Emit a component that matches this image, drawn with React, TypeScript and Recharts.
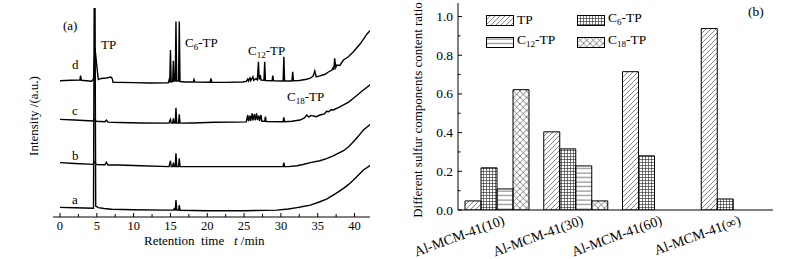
import React from 'react';
import { LineChart, Line, XAxis, YAxis, BarChart, Bar } from 'recharts';

const FONT = "'Liberation Serif', 'Times New Roman', serif";

// (a) chromatograms: [retention time / min, intensity (a.u., stacked offset)]
const traceA: [number, number][] = [
  [0, 4.6], [2, 4.4], [4.55, 4.2], [4.65, 110], [4.75, 110], [4.85, 5.2], [5.2, 4.5], [6, 4.1],
  [7, 3.7], [10, 3.5], [14.5, 3.3], [15.4, 3.3], [15.5, 3.9], [15.6, 3.3], [15.65, 3.3],
  [15.75, 8.1], [15.85, 3.3], [16.1, 3.3], [16.2, 5.7], [16.3, 3.2], [20, 3.0], [25, 3.0],
  [29.4, 3.3], [31, 3.8], [32.2, 4.5], [33, 5.0], [34, 5.7], [35.3, 7.3], [36.2, 8.6],
  [37.1, 10.5], [37.8, 12.0], [38.5, 13.7], [39.2, 15.6], [39.85, 17.7], [40.5, 20.0],
  [41.2, 22.5], [42.2, 24.8],
];
const traceB: [number, number][] = [
  [0, 26.0], [2, 25.6], [4.5, 25.2], [4.75, 26.5], [4.9, 25.1], [6.1, 25.0], [6.3, 26.2],
  [6.5, 24.9], [8, 24.9], [11, 24.5], [14.8, 24.1], [15.0, 26.9], [15.1, 24.1], [15.3, 24.1],
  [15.4, 26.0], [15.5, 24.1], [15.65, 24.1], [15.75, 30.5], [15.85, 24.1], [16.1, 24.1],
  [16.2, 28.1], [16.3, 24.1], [20, 24.1], [25, 24.1], [30.3, 24.1], [30.4, 26.0], [30.5, 24.1],
  [31, 24.1], [32.2, 24.5], [33, 25.1], [34, 26.0], [35.3, 26.9], [36.2, 27.9], [37.1, 29.2],
  [38.5, 31.7], [39.2, 33.6], [39.85, 36.0], [40.5, 38.6], [41.2, 41.6], [42.2, 44.5],
];
const traceC: [number, number][] = [
  [0, 46.7], [2, 46.4], [4.5, 45.9], [4.75, 47.0], [4.9, 45.8], [6.1, 45.6], [6.3, 46.4],
  [6.5, 45.4], [8, 45.2], [11, 45.0], [14.8, 44.9], [14.9, 46.0], [15.0, 46.7], [15.1, 45.0],
  [15.3, 45.0], [15.4, 47.2], [15.5, 45.0], [15.65, 45.0], [15.75, 52.3], [15.85, 45.0],
  [16.1, 45.0], [16.2, 49.1], [16.3, 44.9], [18, 45.0], [21, 45.3], [24, 45.4], [25.3, 45.5],
  [25.5, 48.8], [25.6, 45.8], [25.8, 48.5], [25.9, 46.0], [26.1, 49.6], [26.2, 46.2],
  [26.4, 49.2], [26.5, 46.3], [26.7, 49.6], [26.8, 46.4], [27.0, 48.5], [27.1, 46.0],
  [27.3, 48.8], [27.4, 45.8], [27.8, 45.8], [27.9, 48.0], [28.0, 45.7], [30.3, 45.6],
  [30.4, 47.7], [30.5, 45.6], [31.5, 45.8], [32.6, 46.4], [33.2, 47.4], [33.5, 48.8],
  [33.8, 47.8], [34.1, 48.6], [34.4, 48.3], [34.8, 48.0], [35.3, 48.8], [35.9, 49.3],
  [36.2, 50.6], [36.5, 50.4], [36.8, 51.3], [37.1, 51.2], [37.8, 52.3], [38.5, 53.6],
  [39.2, 55.0], [39.85, 56.8], [40.5, 58.7], [41.2, 60.8], [42.2, 63.5],
];
const traceD: [number, number][] = [
  [0, 65.2], [1.5, 65.4], [2.7, 65.5], [2.8, 67.6], [2.9, 65.4], [4.3, 65.0], [4.55, 66.0],
  [4.75, 80.9], [4.95, 74.0], [5.2, 65.8], [5.6, 66.3], [6.3, 66.5], [6.9, 67.0], [7.1, 66.2],
  [7.2, 64.5], [10, 64.3], [12, 64.1], [14.7, 64.2], [14.8, 65.5], [14.9, 64.4], [15.0, 79.9],
  [15.1, 64.6], [15.3, 64.8], [15.4, 74.8], [15.5, 65.0], [15.65, 65.0], [15.75, 93.5],
  [15.85, 65.0], [16.1, 65.0], [16.2, 93.5], [16.3, 64.8], [17.0, 64.6], [18.1, 64.6],
  [18.2, 65.8], [18.3, 64.6], [20.4, 64.5], [20.5, 66.3], [20.6, 64.5], [22.5, 64.4],
  [24.8, 64.6], [25.3, 64.9], [25.5, 66.0], [25.6, 65.1], [25.8, 66.5], [25.9, 65.2],
  [26.2, 67.1], [26.3, 65.4], [26.6, 66.2], [26.8, 65.6], [26.95, 74.3], [27.05, 65.8],
  [27.2, 67.9], [27.3, 65.5], [27.7, 65.4], [27.8, 74.3], [27.9, 65.3], [28.8, 65.2],
  [28.9, 67.6], [29.0, 65.2], [30.3, 65.1], [30.4, 76.7], [30.5, 65.1], [31.5, 65.1],
  [31.6, 69.5], [31.7, 65.2], [32.5, 65.3], [33.5, 65.9], [34.0, 66.4], [34.4, 67.5],
  [34.6, 69.9], [34.8, 67.0], [35.3, 67.5], [36.0, 68.3], [36.5, 69.5], [36.9, 70.2],
  [37.1, 71.5], [37.2, 70.5], [37.3, 75.9], [37.45, 71.5], [37.6, 72.7], [38.0, 72.5],
  [38.5, 75.1], [39.2, 76.8], [39.85, 79.1], [40.8, 83.0], [41.7, 87.6], [42.2, 89.5],
];
const timeTicks = [0, 2.5, 5, 7.5, 10, 12.5, 15, 17.5, 20, 22.5, 25, 27.5, 30, 32.5, 35, 37.5, 40];

// (b) sulfur component ratios
const catalysts = ['Al-MCM-41(10)', 'Al-MCM-41(30)', 'Al-MCM-41(60)', 'Al-MCM-41(\u221e)'];
const tpRatio = [0.047, 0.404, 0.715, 0.938];
const c6Ratio = [0.218, 0.316, 0.28, 0.057];
const c12Ratio = [0.109, 0.228, null, null];
const c18Ratio = [0.622, 0.047, null, null];
const ratioTicks = [0, 0.1, 0.2, 0.3, 0.4, 0.5, 0.6, 0.7, 0.8, 0.9, 1.0];

const series = [
  { key: 'tp', name: 'TP', sub: '', fill: 'url(#hTP)' },
  { key: 'c6', name: 'C', sub: '6', fill: 'url(#hC6)' },
  { key: 'c12', name: 'C', sub: '12', fill: 'url(#hC12)' },
  { key: 'c18', name: 'C', sub: '18', fill: 'url(#hC18)' },
];

const toPts = (arr: [number, number][]) => arr.map(([t, v]) => ({ t, v }));

const barData = catalysts.map((name, i) => ({
  name,
  tp: tpRatio[i],
  c6: c6Ratio[i],
  c12: c12Ratio[i],
  c18: c18Ratio[i],
}));

const SeriesName = ({ name, sub }: { name: string; sub: string }) =>
  sub ? (
    <span>
      {name}
      <sub style={{ fontSize: 9, verticalAlign: -3 }}>{sub}</sub>-TP
    </span>
  ) : (
    <span>{name}</span>
  );

const Note = ({ x, y, children, size = 13 }: any) => (
  <div
    style={{
      position: 'absolute', left: x, top: y, transform: 'translateY(-50%)',
      fontFamily: FONT, fontSize: size, whiteSpace: 'pre', lineHeight: 1,
    }}
  >
    {children}
  </div>
);

const VLabel = ({ x, y, children }: any) => (
  <div
    style={{
      position: 'absolute', left: x, top: y, transform: 'translate(-50%,-50%) rotate(-90deg)',
      fontFamily: FONT, fontSize: 13, whiteSpace: 'nowrap', lineHeight: 1,
    }}
  >
    {children}
  </div>
);

const TimeTick = (props: any) => {
  const { x, y, payload } = props;
  const v = payload.value;
  const major = v % 5 === 0;
  return (
    <g>
      <line x1={x} y1={y} x2={x} y2={y - (major ? 4 : 3)} stroke="#000" />
      {major && (
        <text x={x} y={y + 13} textAnchor="middle" fontSize={12.5} fontFamily={FONT} fill="#000">
          {v}
        </text>
      )}
    </g>
  );
};

const RatioTick = (props: any) => {
  const { x, y, payload } = props;
  const v = payload.value;
  const major = Math.round(v * 10) % 2 === 0;
  return (
    <g>
      <line x1={x} y1={y} x2={x + (major ? 4 : 2.5)} y2={y} stroke="#000" />
      {major && (
        <text x={x - 5} y={y + 4.5} textAnchor="end" fontSize={13.5} fontFamily={FONT} fill="#000">
          {v.toFixed(1)}
        </text>
      )}
    </g>
  );
};

const CatTick = (props: any) => {
  const { x, y, payload } = props;
  const tx = x + 8;
  const ty = y + 14;
  return (
    <text
      x={tx} y={ty} textAnchor="end" fontSize={14} fontFamily={FONT} fill="#000"
      transform={`rotate(-20, ${tx}, ${ty})`}
    >
      {payload.value}
    </text>
  );
};

function Chromatograms() {
  const traces = [traceA, traceB, traceC, traceD];
  return (
    <div style={{ position: 'absolute', left: 0, top: 0, width: 390, height: 259 }}>
      <LineChart width={390} height={259} margin={{ top: 8, right: 20, bottom: 12, left: 53 }}>
        <XAxis
          type="number" dataKey="t" domain={[-0.95, 42.1]} allowDataOverflow ticks={timeTicks}
          interval={0} tick={<TimeTick />} tickLine={false} tickSize={0} tickMargin={0}
          height={30} axisLine={{ stroke: '#000' }}
        />
        <XAxis
          xAxisId="top" orientation="top" type="number" domain={[-0.95, 42.1]} height={0}
          tick={false} tickLine={false} axisLine={{ stroke: '#000' }}
        />
        <YAxis
          type="number" domain={[0, 100]} allowDataOverflow width={0} tick={false}
          tickLine={false} axisLine={{ stroke: '#000' }}
        />
        <YAxis
          yAxisId="right" orientation="right" width={0} tick={false} tickLine={false}
          axisLine={{ stroke: '#000' }}
        />
        {traces.map((tr, i) => (
          <Line
            key={i} data={toPts(tr)} dataKey="v" type="linear" stroke="#000" strokeWidth={1.4}
            dot={false} isAnimationActive={false}
          />
        ))}
      </LineChart>
      <Note x={63} y={25}>(a)</Note>
      <Note x={101} y={44}>TP</Note>
      <Note x={185} y={44}><SeriesName name="C" sub="6" /></Note>
      <Note x={248} y={52}><SeriesName name="C" sub="12" /></Note>
      <Note x={287} y={98}><SeriesName name="C" sub="18" /></Note>
      <Note x={72} y={64}>d</Note>
      <Note x={72} y={110}>c</Note>
      <Note x={72} y={155}>b</Note>
      <Note x={72} y={199}>a</Note>
      <VLabel x={33} y={116}>Intensity /(a.u.)</VLabel>
      <Note x={144} y={240}>
        {'Retention  time   '}<i>t</i>{' /min'}
      </Note>
    </div>
  );
}

function SulfurRatios() {
  return (
    <div style={{ position: 'absolute', left: 390, top: 0, width: 395, height: 259 }}>
      <BarChart
        width={395} height={259} data={barData} barGap={0} barCategoryGap={7}
        margin={{ top: 3, right: 12, bottom: 9, left: 0 }}
      >
        <defs>
          <pattern id="hTP" width="5" height="5" patternUnits="userSpaceOnUse">
            <path d="M-1,1 l2,-2 M0,5 l5,-5 M4,6 l2,-2" stroke="#333" strokeWidth="0.6" />
          </pattern>
          <pattern id="hC6" width="3" height="3" patternUnits="userSpaceOnUse">
            <path d="M0,0.5 H3 M0.5,0 V3" stroke="#222" strokeWidth="0.6" />
          </pattern>
          <pattern id="hC12" width="4" height="4.5" patternUnits="userSpaceOnUse">
            <path d="M0,2 H4" stroke="#333" strokeWidth="0.7" />
          </pattern>
          <pattern id="hC18" width="6.5" height="6.5" patternUnits="userSpaceOnUse">
            <path d="M0,0 L6.5,6.5 M6.5,0 L0,6.5" stroke="#333" strokeWidth="0.6" />
          </pattern>
        </defs>
        <XAxis
          dataKey="name" tick={<CatTick />} tickLine={false} tickSize={0} tickMargin={0}
          interval={0} height={40} axisLine={{ stroke: '#000' }}
        />
        <XAxis
          xAxisId="top" dataKey="name" orientation="top" height={0} tick={false}
          tickLine={false} axisLine={{ stroke: '#000' }}
        />
        <YAxis
          domain={[0, 1.07]} ticks={ratioTicks} interval={0} tick={<RatioTick />}
          tickLine={false} tickSize={0} tickMargin={0} width={68} axisLine={{ stroke: '#000' }}
          allowDataOverflow
        />
        <YAxis
          yAxisId="right" orientation="right" width={0} tick={false} tickLine={false}
          axisLine={{ stroke: '#000' }}
        />
        {series.map((s) => (
          <Bar
            key={s.key} dataKey={s.key} fill={s.fill} stroke="#000" strokeWidth={1}
            isAnimationActive={false}
          />
        ))}
      </BarChart>
      <div
        style={{
          position: 'absolute', left: 96, top: 13, display: 'grid',
          gridTemplateColumns: '91px auto', gridAutoRows: '22px',
          fontFamily: FONT, fontSize: 13.5, lineHeight: '14px',
        }}
      >
        {series.map((s) => (
          <div key={s.key} style={{ display: 'flex', alignItems: 'center', height: 14 }}>
            <svg width={28} height={11} style={{ marginRight: 3 }}>
              <rect x={0.5} y={0.5} width={27} height={10} fill={s.fill} stroke="#000" />
            </svg>
            <SeriesName name={s.name} sub={s.sub} />
          </div>
        ))}
      </div>
      <Note x={358} y={12} size={13.5}>(b)</Note>
      <VLabel x={27} y={110}>Different sulfur components content ratio</VLabel>
    </div>
  );
}

export default function App() {
  return (
    <div style={{ position: 'absolute', left: 0, top: 0, width: 785, height: 259, background: '#fff' }}>
      <Chromatograms />
      <SulfurRatios />
    </div>
  );
}
